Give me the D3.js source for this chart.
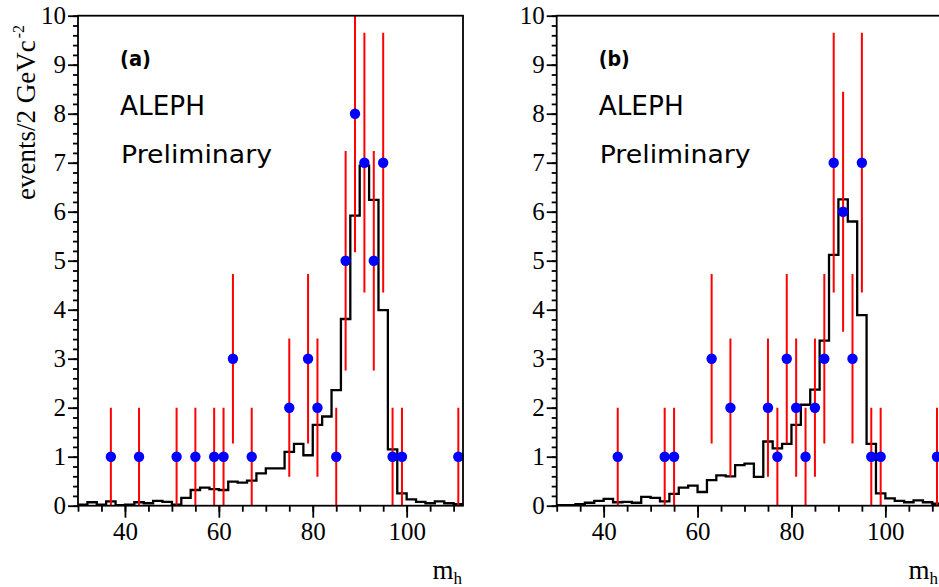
<!DOCTYPE html>
<html>
<head>
<meta charset="utf-8">
<script src="https://cdn.jsdelivr.net/npm/d3@7"></script>
<style>
  html, body { margin: 0; padding: 0; background: #fff; }
  svg { display: block; }
</style>
</head>
<body>
<svg id="chart" width="939" height="587"></svg>
<script>
// ---------------- data ----------------
const binStart = [30,32,34,36,38,40,42,44,46,48,50,52,54,56,58,60,62,64,66,68,70,
                  72,74,76,78,80,82,84,86,88,90,92,94,96,98,100,102,104,106,108,110];
const binEnd = 112;

const histA = [0.02,0.07,0.02,0.09,0.01,0.02,0.07,0.05,0.10,0.08,0.02,0.16,0.32,0.37,0.34,0.32,
               0.49,0.47,0.51,0.66,0.76,0.76,1.10,1.26,1.03,1.65,1.82,2.36,3.81,5.92,6.94,6.24,
               3.99,1.15,0.25,0.13,0.08,0.05,0.09,0.05,0.03];
const histB = [0.01,0.01,0.03,0.06,0.10,0.14,0.07,0.08,0.06,0.18,0.16,0.09,0.24,0.37,0.41,0.28,
               0.52,0.62,0.60,0.83,0.86,0.59,1.31,1.17,1.26,1.65,2.06,2.37,3.37,5.12,6.25,5.80,
               3.89,1.26,0.25,0.15,0.10,0.07,0.11,0.07,0.04];

const massA  = [37,43,51,55,59,61,63,67,75,79,81,85,87,89,91,93,95,97,99,111];
const countA = [1,1,1,1,1,1,3,1,2,3,2,1,5,8,7,5,7,1,1,1];
const errA   = [1,1,1,1,1,1,1.73,1,1.41,1.73,1.41,1,2.24,2.83,2.65,2.24,2.65,1,1,1];

const massB  = [43,53,55,63,67,75,77,79,81,83,85,87,89,91,93,95,97,99,111];
const countB = [1,1,1,3,2,2,1,3,2,1,2,3,7,6,3,7,1,1,1];
const errB   = [1,1,1,1.73,1.41,1.41,1,1.73,1.41,1,1.41,1.73,2.65,2.45,1.73,2.65,1,1,1];

const xMajor = [40,60,80,100];
const yMajor = [0,1,2,3,4,5,6,7,8,9,10];
const panelLabels = ["(a)","(b)"];
const expText = "ALEPH";
const prelimText = "Preliminary";
const yTitle = "events/2 GeVc";
const yTitleExp = "-2";
const xTitle = "m";
const xTitleSub = "h";

// ---------------- layout ----------------
const svg = d3.select("#chart");
const W = 939;
const plotTop = 15.7, plotBottom = 505.7, pw = 385;
const panels = [
  {left: 78,    hist: histA, mass: massA, count: countA, err: errA, label: panelLabels[0]},
  {left: 556.7, hist: histB, mass: massB, count: countB, err: errB, label: panelLabels[1]}
];

const serif = "'Liberation Serif','DejaVu Serif','Times New Roman',serif";
const sans = "'DejaVu Sans',sans-serif";

panels.forEach((p, pi) => {
  const x = d3.scaleLinear().domain([30, 112]).range([p.left, p.left + pw]);
  const y = d3.scaleLinear().domain([0, 10]).range([plotBottom, plotTop]);
  const g = svg.append("g");

  const clipId = "clip" + pi;
  svg.append("clipPath").attr("id", clipId).append("rect")
    .attr("x", p.left).attr("y", plotTop).attr("width", pw).attr("height", plotBottom - plotTop);

  // histogram
  const pts = binStart.map((b, i) => [b, p.hist[i]]);
  pts.push([binEnd, p.hist[p.hist.length - 1]]);
  g.append("path")
    .attr("d", d3.line().x(d => x(d[0])).y(d => y(d[1])).curve(d3.curveStepAfter)(pts))
    .attr("fill", "none").attr("stroke", "#000").attr("stroke-width", 2.3)
    .attr("clip-path", `url(#${clipId})`);

  // error bars
  g.append("g").attr("clip-path", `url(#${clipId})`)
    .selectAll("line").data(p.mass).join("line")
    .attr("x1", d => x(d)).attr("x2", d => x(d))
    .attr("y1", (d, i) => y(Math.max(0, p.count[i] - p.err[i])))
    .attr("y2", (d, i) => y(p.count[i] + p.err[i]))
    .attr("stroke", "#ff0000").attr("stroke-width", 2);

  // points
  g.append("g").selectAll("circle").data(p.mass).join("circle")
    .attr("cx", d => x(d)).attr("cy", (d, i) => y(p.count[i]))
    .attr("r", 5.2).attr("fill", "#0000ff");

  // frame
  g.append("rect").attr("x", p.left).attr("y", plotTop).attr("width", pw).attr("height", plotBottom - plotTop)
    .attr("fill", "none").attr("stroke", "#000").attr("stroke-width", 1.8);

  // axes
  const xAxisMinor = d3.axisBottom(x).tickValues(d3.range(30, 112, 5)).tickSize(6).tickFormat("").tickSizeOuter(0);
  const xAxisMajor = d3.axisBottom(x).tickValues(xMajor).tickSize(12).tickSizeOuter(0).tickPadding(5);
  const yAxisMinor = d3.axisLeft(y).tickValues(d3.range(0, 10.01, 0.2)).tickSize(5).tickFormat("").tickSizeOuter(0);
  const yAxisMajor = d3.axisLeft(y).tickValues(yMajor).tickSize(10).tickSizeOuter(0).tickPadding(2);

  [xAxisMinor, xAxisMajor].forEach(ax => {
    const a = g.append("g").attr("transform", `translate(0,${plotBottom})`).call(ax);
    a.select(".domain").remove();
    a.selectAll("line").attr("stroke", "#000").attr("stroke-width", 1.8);
    a.selectAll("text").attr("font-family", serif).attr("font-size", 25).attr("fill", "#000");
  });
  [yAxisMinor, yAxisMajor].forEach(ax => {
    const a = g.append("g").attr("transform", `translate(${p.left},0)`).call(ax);
    a.select(".domain").remove();
    a.selectAll("line").attr("stroke", "#000").attr("stroke-width", 1.8);
    a.selectAll("text").attr("font-family", serif).attr("font-size", 25).attr("fill", "#000");
  });

  // labels inside
  const tx = p.left + 42;
  g.append("text").attr("x", tx).attr("y", 66).text(p.label)
    .attr("font-family", sans).attr("font-size", 22).attr("font-weight", "bold").attr("fill", "#000")
    .attr("textLength", 31).attr("lengthAdjust", "spacingAndGlyphs");
  g.append("text").attr("x", tx).attr("y", 115).text(expText)
    .attr("font-family", sans).attr("font-size", 27).attr("fill", "#000")
    .attr("textLength", 85).attr("lengthAdjust", "spacingAndGlyphs");
  g.append("text").attr("x", tx + 1).attr("y", 163).text(prelimText)
    .attr("font-family", sans).attr("font-size", 24).attr("fill", "#000")
    .attr("textLength", 151).attr("lengthAdjust", "spacingAndGlyphs");

  // x title
  const xt = g.append("text").attr("x", Math.min(p.left + pw, W) - 1).attr("y", 579)
    .attr("text-anchor", "end").attr("font-family", serif).attr("font-size", 27).attr("fill", "#000");
  xt.append("tspan").text(xTitle);
  xt.append("tspan").text(xTitleSub).attr("font-size", 17).attr("dy", 5);
});

// y title
const yt = svg.append("text")
  .attr("transform", "translate(35,200) rotate(-90)")
  .attr("font-family", serif).attr("font-size", 27).attr("fill", "#000");
yt.append("tspan").text(yTitle);
yt.append("tspan").text(yTitleExp).attr("font-size", 16).attr("dy", -11).attr("dx", 2);
</script>
</body>
</html>
